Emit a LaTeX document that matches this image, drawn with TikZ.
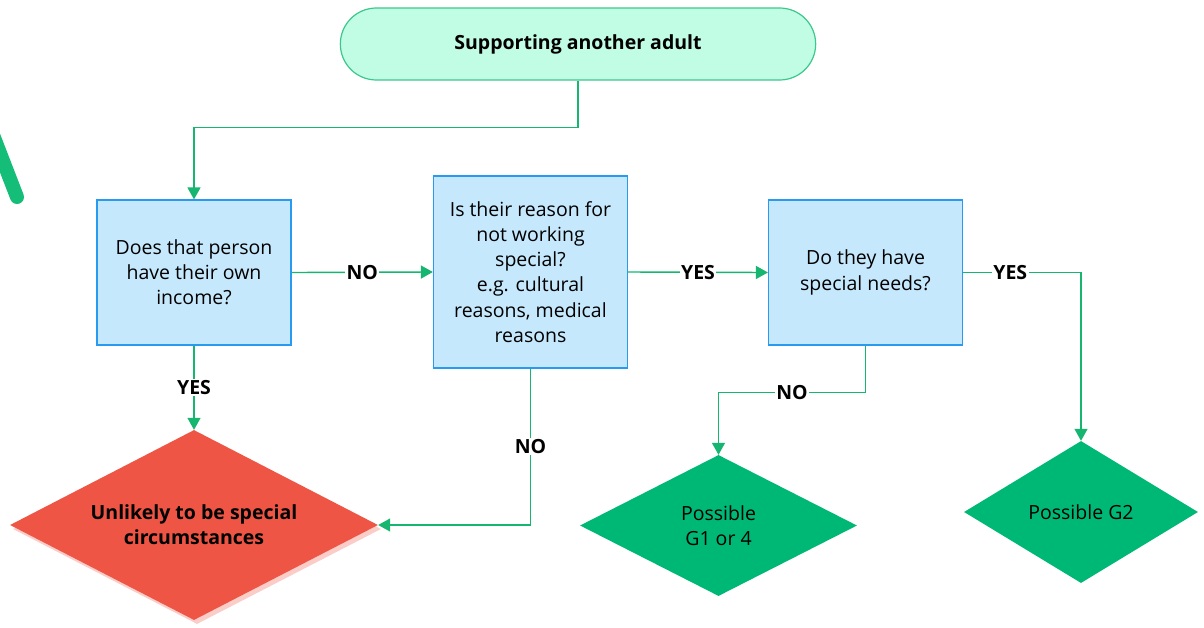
\documentclass[tikz,border=0pt]{standalone}
\usepackage{fontspec}
\setmainfont{Open Sans}
\usetikzlibrary{shapes.geometric,shapes.misc,arrows.meta,shadows}

\definecolor{startfill}{RGB}{192,253,228}
\definecolor{startline}{RGB}{60,200,140}
\definecolor{boxfill}{RGB}{198,232,252}
\definecolor{boxline}{RGB}{40,155,240}
\definecolor{linkgreen}{RGB}{22,182,112}
\definecolor{okgreen}{RGB}{0,184,117}
\definecolor{stopred}{RGB}{238,85,68}
\definecolor{stopshade}{RGB}{250,205,200}
\definecolor{accent}{RGB}{20,190,120}

\newcommand{\bodyfont}{\fontsize{19.5}{25.2}\selectfont}

\tikzset{
  txt/.style={font=\bodyfont, align=center, text=black},
  startbox/.style={txt, rounded rectangle, draw=startline, fill=startfill,
    line width=1.2pt, minimum width=482pt, minimum height=72pt,
    font=\bodyfont\bfseries},
  qbox/.style={txt, rectangle, draw=boxline, fill=boxfill, line width=1.2pt,
    minimum width=194pt, inner sep=0pt},
  outcome/.style={txt, diamond, inner sep=0pt, fill=okgreen, aspect=1.9},
  link/.style={draw=linkgreen, line width=1.4pt,
    -{Triangle[length=12pt,width=13pt]}},
  lbl/.style={txt, font=\bodyfont\bfseries, fill=white, inner sep=1.5pt}
}

\begin{document}
\begin{tikzpicture}[x=1pt,y=-1pt]
\useasboundingbox (0,0) rectangle (1204,627);

% decorative stroke on the left edge
\draw[accent, line width=14pt, line cap=round] (-12,122) -- (17,197);

% start
\node[startbox] (start) at (578,44) {Supporting another adult};

% questions
\node[qbox, minimum height=145pt] (b1) at (194,272.5)
  {Does that person\\have their own\\income?};
\node[qbox, minimum height=192pt] (b2) at (530.5,272)
  {Is their reason for\\not working\\special?\\e.g. cultural\\reasons, medical\\reasons};
\node[qbox, minimum height=145pt] (b3) at (865.5,272.5)
  {Do they have\\special needs?};

% outcomes
\node[txt, diamond, inner sep=0pt, aspect=1.9, fill=stopred,
  minimum width=368pt, minimum height=190pt,
  font=\bodyfont\bfseries,
  drop shadow={shadow xshift=3pt, shadow yshift=-4pt, fill=stopshade, opacity=1}]
  (stop) at (194,525) {Unlikely to be special\\circumstances};
\node[outcome, minimum width=277pt, minimum height=141pt] (g14) at (718.5,525.5)
  {Possible\\G1 or 4};
\node[outcome, minimum width=234pt, minimum height=142pt] (g2) at (1081,512)
  {Possible G2};

% connectors
\draw[link] (start.south) -- ++(0,47) -| (b1.north);
\draw[link] (b1.east) -- node[lbl, pos=0.5] {NO} (b2.west);
\draw[link] (b2.east) -- node[lbl, pos=0.5] {YES} (b3.west);
\draw[link] (b3.east) -| node[lbl, pos=0.2] {YES} (g2.north);
\draw[link] (b3.south) -- ++(0,47) -| node[lbl, pos=0.25] {NO} (g14.north);
\draw[link] (b1.south) -- node[lbl, pos=0.5] {YES} (stop.north);
\draw[link] (b2.south) |- node[lbl, pos=0.25] {NO} (stop.east);
\end{tikzpicture}
\end{document}
